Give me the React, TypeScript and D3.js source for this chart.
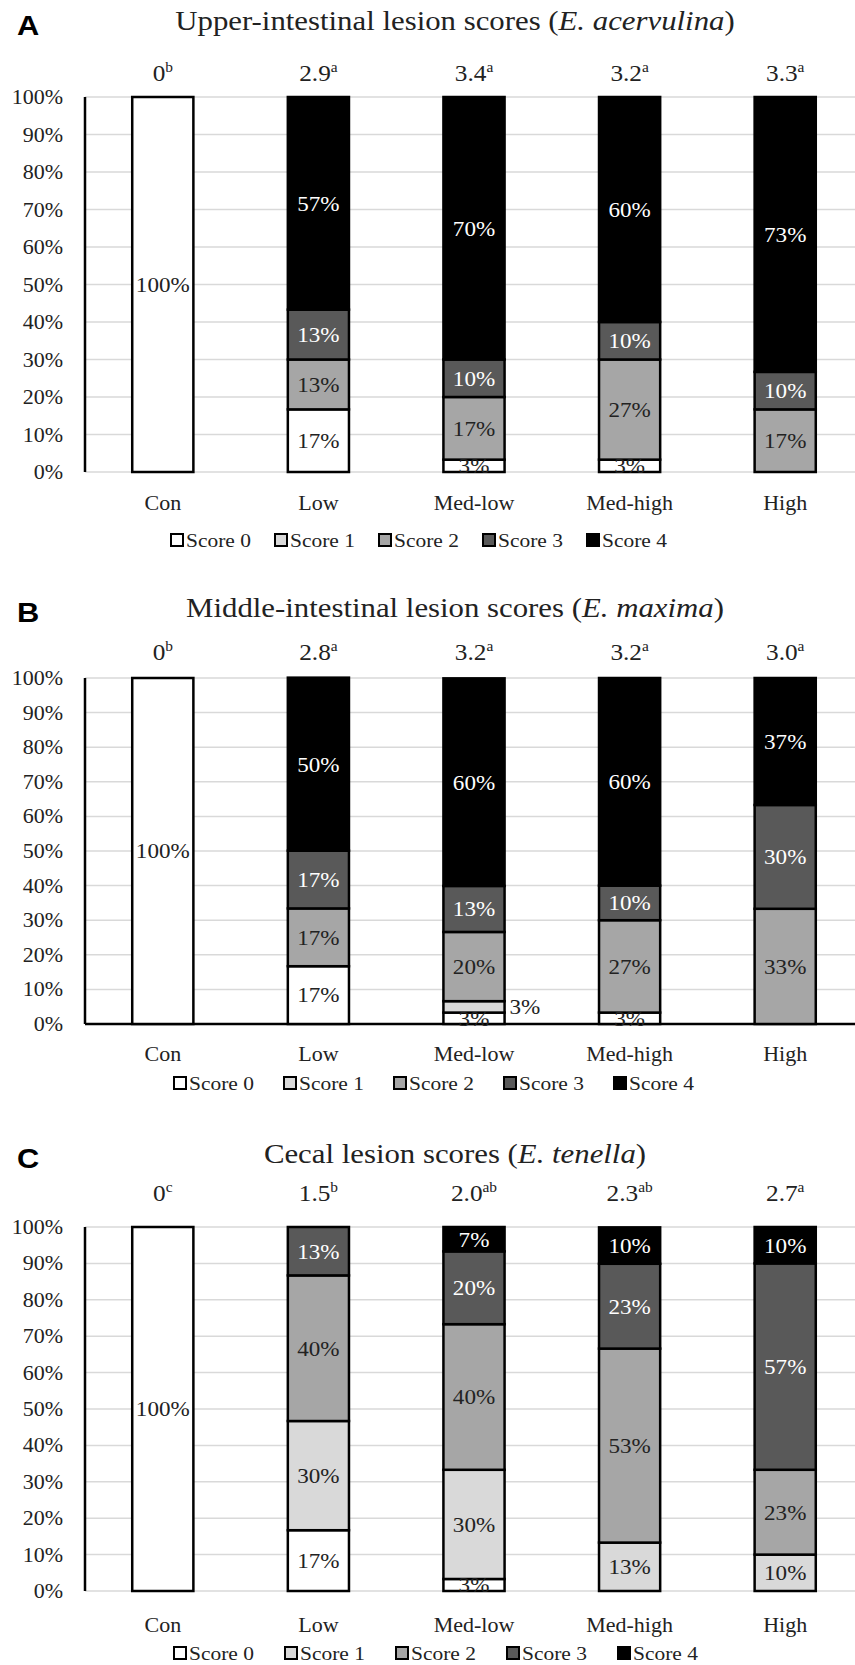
import * as d3 from 'd3';

// categories and series
const groups = ['Con', 'Low', 'Med-low', 'Med-high', 'High'];
const scoreKeys = ['Score 0', 'Score 1', 'Score 2', 'Score 3', 'Score 4'];
const scoreColors = ['#ffffff', '#d9d9d9', '#a6a6a6', '#595959', '#000000'];
const yTicks = [0, 10, 20, 30, 40, 50, 60, 70, 80, 90, 100];

// A - upper intestine (E. acervulina), % of birds per score
const upperScore0 = [100, 16.7, 3.3, 3.3, 0];
const upperScore1 = [0, 0, 0, 0, 0];
const upperScore2 = [0, 13.3, 16.7, 26.7, 16.7];
const upperScore3 = [0, 13.3, 10, 10, 10];
const upperScore4 = [0, 56.7, 70, 60, 73.3];
const upperMeans = ['0', '2.9', '3.4', '3.2', '3.3'];
const upperLetters = ['b', 'a', 'a', 'a', 'a'];

// B - middle intestine (E. maxima)
const middleScore0 = [100, 16.7, 3.3, 3.3, 0];
const middleScore1 = [0, 0, 3.3, 0, 0];
const middleScore2 = [0, 16.7, 20, 26.7, 33.3];
const middleScore3 = [0, 16.7, 13.3, 10, 30];
const middleScore4 = [0, 50, 60, 60, 36.7];
const middleMeans = ['0', '2.8', '3.2', '3.2', '3.0'];
const middleLetters = ['b', 'a', 'a', 'a', 'a'];

// C - ceca (E. tenella)
const cecalScore0 = [100, 16.7, 3.3, 0, 0];
const cecalScore1 = [0, 30, 30, 13.3, 10];
const cecalScore2 = [0, 40, 40, 53.3, 23.3];
const cecalScore3 = [0, 13.3, 20, 23.3, 56.7];
const cecalScore4 = [0, 0, 6.7, 10, 10];
const cecalMeans = ['0', '1.5', '2.0', '2.3', '2.7'];
const cecalLetters = ['c', 'b', 'ab', 'ab', 'a'];

const SERIF = '"Liberation Serif", "Times New Roman", serif';
const SANS = '"Liberation Sans", Arial, sans-serif';
// the source figure is a bit wider than tall in its lettering
const SX = 1.1;

const panels = [
  {
    letter: 'A', title: 'Upper-intestinal lesion scores (', species: 'E. acervulina',
    series: [upperScore0, upperScore1, upperScore2, upperScore3, upperScore4],
    means: upperMeans, letters: upperLetters,
    titleY: 30, meanY: 81, y100: 97, y0: 472, catY: 510, legendY: 547,
    legendX: 170, legendStep: 104, baseAxis: false,
  },
  {
    letter: 'B', title: 'Middle-intestinal lesion scores (', species: 'E. maxima',
    series: [middleScore0, middleScore1, middleScore2, middleScore3, middleScore4],
    means: middleMeans, letters: middleLetters,
    titleY: 617, meanY: 660, y100: 678, y0: 1024, catY: 1061, legendY: 1090,
    legendX: 173, legendStep: 110, baseAxis: true,
  },
  {
    letter: 'C', title: 'Cecal lesion scores (', species: 'E. tenella',
    series: [cecalScore0, cecalScore1, cecalScore2, cecalScore3, cecalScore4],
    means: cecalMeans, letters: cecalLetters,
    titleY: 1163, meanY: 1201, y100: 1227, y0: 1591, catY: 1632, legendY: 1660,
    legendX: 173, legendStep: 111, baseAxis: false,
  },
];

const T = ({ x, y, size, anchor = 'start', fill = '#222', family = SERIF, weight = 'normal', dy, children }: any) => (
  <text transform={`translate(${x},${y}) scale(${SX},1)`} textAnchor={anchor} fontSize={size}
    fontFamily={family} fontWeight={weight} fill={fill} dy={dy}>{children}</text>
);

const Panel = ({ p }: { p: any }) => {
  const x = d3.scaleBand().domain(groups).range([85, 863]).paddingInner(0.607).paddingOuter(0.3035);
  const y = d3.scaleLinear().domain([0, 100]).range([p.y0, p.y100]);

  const table = groups.map((g, i) => {
    const row: any = { group: g };
    scoreKeys.forEach((k, j) => (row[k] = p.series[j][i]));
    return row;
  });
  const stacked = d3.stack().keys(scoreKeys)(table);
  const fmt = (v: number) => `${Math.round(v)}%`;
  const bw = x.bandwidth();

  return (
    <g>
      <T x={17} y={p.titleY + 5} size={28} family={SANS} weight="bold" fill="#000">{p.letter}</T>
      <T x={455} y={p.titleY} size={28} anchor="middle">
        <tspan>{p.title}</tspan>
        <tspan fontStyle="italic">{p.species}</tspan>
        <tspan>)</tspan>
      </T>

      {/* grid + y axis */}
      {yTicks.map((t) => (
        <g key={t}>
          <line x1={85} x2={855} y1={y(t)} y2={y(t)} stroke="#d9d9d9" strokeWidth={1.5} />
          <T x={63} y={y(t) + 7} size={20} anchor="end">{t}%</T>
        </g>
      ))}
      {p.baseAxis && <line x1={85} x2={855} y1={y(0)} y2={y(0)} stroke="#000" strokeWidth={2.5} />}
      <line x1={85} x2={85} y1={y(100)} y2={y(0)} stroke="#000" strokeWidth={2.5} />

      {/* stacked bars */}
      {stacked.map((s, j) => (
        <g key={s.key}>
          {s.map((d: any, i: number) => {
            if (d[1] - d[0] <= 0) return null;
            return (
              <rect key={i} x={x(groups[i])} width={bw} y={y(d[1])} height={y(d[0]) - y(d[1])}
                fill={scoreColors[j]} stroke="#000" strokeWidth={2.5} />
            );
          })}
        </g>
      ))}
      {stacked.map((s, j) => (
        <g key={'l' + s.key}>
          {s.map((d: any, i: number) => {
            const v = d[1] - d[0];
            if (v <= 0) return null;
            const bx = x(groups[i])!;
            // thin upper slice gets its label beside the bar
            const outside = v < 5 && d[0] > 0;
            return (
              <T key={i} x={outside ? bx + bw + 5 : bx + bw / 2} y={y((d[0] + d[1]) / 2)} dy="0.35em"
                anchor={outside ? 'start' : 'middle'} size={21}
                fill={j >= 3 ? '#fff' : '#222'}>{fmt(v)}</T>
            );
          })}
        </g>
      ))}

      {/* means above bars */}
      {groups.map((g, i) => (
        <T key={g} x={x(g)! + bw / 2} y={p.meanY} size={23} anchor="middle">
          <tspan>{p.means[i]}</tspan>
          <tspan dy={-9} fontSize={14}>{p.letters[i]}</tspan>
        </T>
      ))}

      {/* category labels */}
      {groups.map((g) => (
        <T key={'c' + g} x={x(g)! + bw / 2} y={p.catY} size={20} anchor="middle">{g}</T>
      ))}

      {/* legend */}
      {scoreKeys.map((k, j) => (
        <g key={'lg' + k} transform={`translate(${p.legendX + j * p.legendStep},${p.legendY})`}>
          <rect x={1} y={-13} width={12} height={12} fill={scoreColors[j]} stroke="#000" strokeWidth={2} />
          <T x={16} y={0} size={19.5}>{k}</T>
        </g>
      ))}
    </g>
  );
};

export default function App() {
  return (
    <svg width={855} height={1665} style={{ position: 'absolute', left: 0, top: 0, background: '#fff' }}>
      {panels.map((p) => <Panel key={p.letter} p={p} />)}
    </svg>
  );
}
